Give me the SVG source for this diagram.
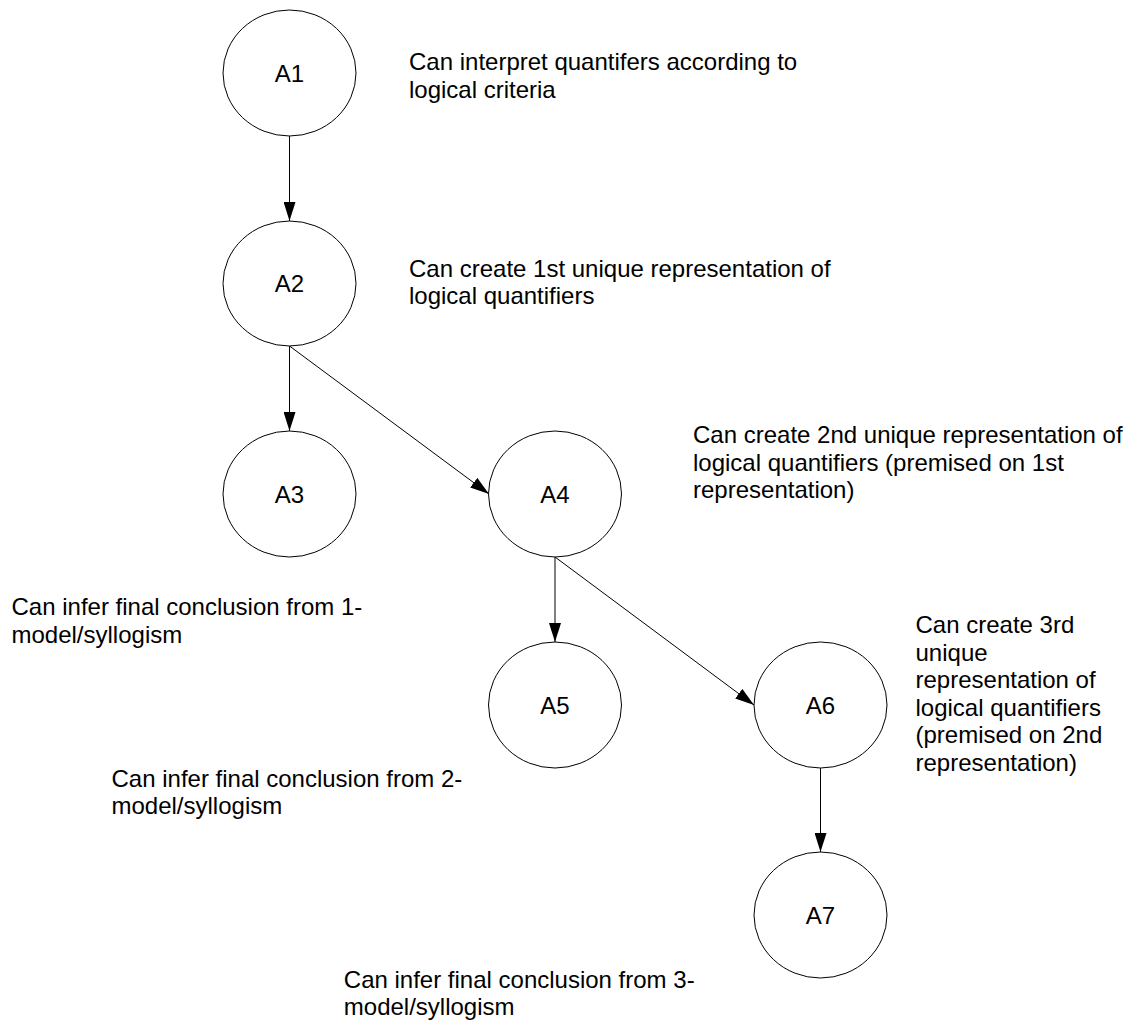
<svg xmlns="http://www.w3.org/2000/svg" width="1136" height="1021" viewBox="0 0 1136 1021">
  <style>
    .node ellipse { fill: #ffffff; stroke: #000000; stroke-width: 1; }
    .node text { font-family: "Liberation Sans", Arial, sans-serif; font-size: 24px; fill: #000000; text-anchor: middle; }
    .label { font-family: "Liberation Sans", Arial, sans-serif; font-size: 24px; fill: #000000; }
    .edge { stroke: #000000; stroke-width: 1; fill: none; marker-end: url(#arrow); }
  </style>
  <defs>
    <marker id="arrow" markerUnits="userSpaceOnUse" markerWidth="19" markerHeight="12" refX="19" refY="6" orient="auto">
      <path d="M0,0 L19,6 L0,12 z" fill="#000000"/>
    </marker>
  </defs>
  <rect width="1136" height="1021" fill="#ffffff"/>

  <g id="connectors">
    <line class="edge" x1="289.5" y1="136" x2="289.5" y2="221"/>
    <line class="edge" x1="289.5" y1="346" x2="289.5" y2="431"/>
    <line class="edge" x1="289.5" y1="346" x2="489" y2="494"/>
    <line class="edge" x1="555" y1="557" x2="555" y2="642"/>
    <line class="edge" x1="555" y1="557" x2="754" y2="705"/>
    <line class="edge" x1="820.5" y1="768" x2="820.5" y2="852"/>
  </g>

  <g id="A1" class="node">
    <ellipse cx="289.5" cy="73" rx="66.5" ry="63"/>
    <text x="289.5" y="81.5">A1</text>
  </g>
  <g id="A2" class="node">
    <ellipse cx="289.5" cy="283.5" rx="66.5" ry="62.5"/>
    <text x="289.5" y="292">A2</text>
  </g>
  <g id="A3" class="node">
    <ellipse cx="289.5" cy="494" rx="66.5" ry="63"/>
    <text x="289.5" y="502.5">A3</text>
  </g>
  <g id="A4" class="node">
    <ellipse cx="555" cy="494" rx="66.5" ry="63"/>
    <text x="555" y="502.5">A4</text>
  </g>
  <g id="A5" class="node">
    <ellipse cx="555" cy="705" rx="66.5" ry="63"/>
    <text x="555" y="713.5">A5</text>
  </g>
  <g id="A6" class="node">
    <ellipse cx="820.5" cy="705" rx="66.5" ry="63"/>
    <text x="820.5" y="713.5">A6</text>
  </g>
  <g id="A7" class="node">
    <ellipse cx="820.5" cy="915" rx="66.5" ry="63"/>
    <text x="820.5" y="923.5">A7</text>
  </g>

  <g id="labels">
    <text class="label" x="409" y="70">Can interpret quantifers according to<tspan x="409" dy="27.6">logical criteria</tspan></text>
    <text class="label" x="409" y="276.7">Can create 1st unique representation of<tspan x="409" dy="27.6">logical quantifiers</tspan></text>
    <text class="label" x="693" y="443">Can create 2nd unique representation of<tspan x="693" dy="27.6">logical quantifiers (premised on 1st</tspan><tspan x="693" dy="27.6">representation)</tspan></text>
    <text class="label" x="915.5" y="633">Can create 3rd<tspan x="915.5" dy="27.6">unique</tspan><tspan x="915.5" dy="27.6">representation of</tspan><tspan x="915.5" dy="27.6">logical quantifiers</tspan><tspan x="915.5" dy="27.6">(premised on 2nd</tspan><tspan x="915.5" dy="27.6">representation)</tspan></text>
    <text class="label" x="11.5" y="615">Can infer final conclusion from 1-<tspan x="11.5" dy="27.6">model/syllogism</tspan></text>
    <text class="label" x="111.5" y="786.7">Can infer final conclusion from 2-<tspan x="111.5" dy="27.6">model/syllogism</tspan></text>
    <text class="label" x="343.8" y="987.7">Can infer final conclusion from 3-<tspan x="343.8" dy="27.6">model/syllogism</tspan></text>
  </g>
</svg>
